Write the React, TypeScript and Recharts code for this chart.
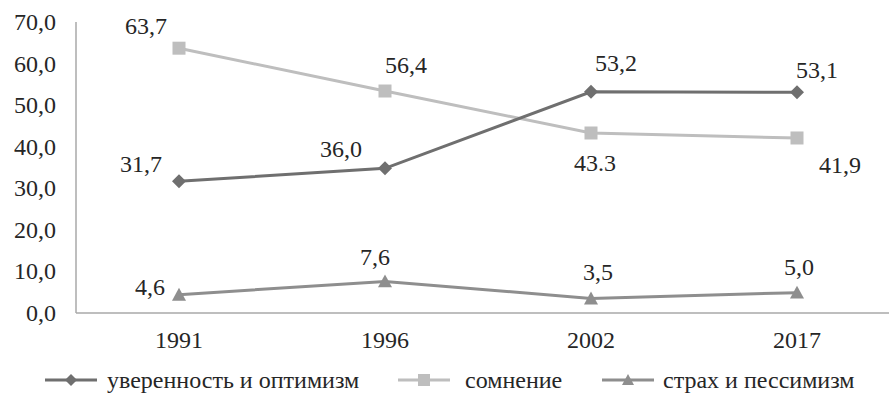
import { LineChart, Line, XAxis, YAxis, Legend, LabelList } from "recharts";

const years = ["1991", "1996", "2002", "2017"];
const confidence = [31.7, 34.8, 53.2, 53.1];
const doubt = [63.7, 53.4, 43.3, 42.1];
const fear = [4.4, 7.6, 3.5, 4.9];

const confidenceLabels = ["31,7", "36,0", "53,2", "53,1"];
const doubtLabels = ["63,7", "56,4", "43.3", "41,9"];
const fearLabels = ["4,6", "7,6", "3,5", "5,0"];

const yTicks = [0, 10, 20, 30, 40, 50, 60, 70];

const seriesNames = ["уверенность и оптимизм", "сомнение", "страх и пессимизм"];

const data = years.map((y, i) => ({
  year: y,
  confidence: confidence[i],
  doubt: doubt[i],
  fear: fear[i],
}));

const FONT = '"Times New Roman", "Liberation Serif", "DejaVu Serif", Times, serif';
const TEXT = "#262626";
const C_CONF = "#6f6f6f";
const C_DOUBT = "#bebebe";
const C_FEAR = "#8e8e8e";
const AXIS = "#a8a8a8";

const textStyle = { fontFamily: FONT, fontSize: 24 };

// label offsets (center of text relative to the point)
const confOffsets = [[-38, -17], [-44, -19], [25, -29], [20, -22]];
const doubtOffsets = [[-33, -22], [21, -26], [4, 30], [43, 27]];
const fearOffsets = [[-29, -8], [-10, -24], [7, -26], [2, -26]];

const Diamond = ({ cx, cy, fill, size = 7 }: any) =>
  cx == null ? null : (
    <path d={`M${cx},${cy - size} L${cx + size},${cy} L${cx},${cy + size} L${cx - size},${cy} Z`} fill={fill} />
  );

const Square = ({ cx, cy, fill, size = 6.5 }: any) =>
  cx == null ? null : <rect x={cx - size} y={cy - size} width={size * 2} height={size * 2} fill={fill} />;

const Triangle = ({ cx, cy, fill, size = 7 }: any) =>
  cx == null ? null : (
    <path d={`M${cx},${cy - size} L${cx + size},${cy + size * 0.85} L${cx - size},${cy + size * 0.85} Z`} fill={fill} />
  );

const makeLabel = (texts: string[], offsets: number[][]) => (props: any) => {
  const { x, y, index } = props;
  const [dx, dy] = offsets[index];
  return (
    <text x={x + dx} y={y + dy + 8} textAnchor="middle" fontFamily={FONT} style={textStyle} fill={TEXT}>
      {texts[index]}
    </text>
  );
};

const YTick = ({ x, y, payload }: any) => (
  <text x={x} y={y + 8} textAnchor="end" fontFamily={FONT} style={textStyle} fill={TEXT}>
    {payload.value.toFixed(1).replace(".", ",")}
  </text>
);

const XTick = ({ x, y, payload }: any) => (
  <text x={x} y={y + 27} textAnchor="middle" fontFamily={FONT} style={textStyle} fill={TEXT}>
    {payload.value}
  </text>
);

const legendItems = [
  { icon: 45, text: 107, color: C_CONF, Marker: Diamond },
  { icon: 398, text: 465, color: C_DOUBT, Marker: Square },
  { icon: 602, text: 663, color: C_FEAR, Marker: Triangle },
];

const LegendContent = () => (
  <svg width={889} height={50}>
    {legendItems.map((it, i) => (
      <g key={i}>
        <line x1={it.icon} x2={it.icon + 52} y1={25} y2={25} stroke={it.color} strokeWidth={3} />
        <it.Marker cx={it.icon + 26} cy={25} fill={it.color} size={6} />
        <text x={it.text} y={33} fontFamily={FONT} style={textStyle} fill={TEXT}>
          {seriesNames[i]}
        </text>
      </g>
    ))}
  </svg>
);

export default function App() {
  return (
    <div
      style={{
        position: "absolute",
        left: 0,
        top: 0,
        width: 889,
        height: 405,
        overflow: "hidden",
        background: "#fff",
        fontFamily: FONT,
      }}
    >
      <LineChart width={900} height={405} data={data} margin={{ top: 22, right: 0, left: 0, bottom: 0 }}>
        <XAxis
          dataKey="year"
          padding={{ left: 103, right: 103 }}
          axisLine={{ stroke: AXIS, strokeWidth: 1.5 }}
          tickLine={false}
          tick={<XTick />}
          height={42}
          interval={0}
        />
        <YAxis
          domain={[0, 70]}
          ticks={yTicks}
          width={76}
          axisLine={{ stroke: AXIS, strokeWidth: 1.5 }}
          tickLine={false}
          tick={<YTick />}
          tickMargin={14}
          interval={0}
        />
        <Legend verticalAlign="bottom" height={50} content={<LegendContent />} wrapperStyle={{ left: 0, bottom: 0, width: 889 }} />
        <Line
          dataKey="doubt"
          name={seriesNames[1]}
          stroke={C_DOUBT}
          strokeWidth={3}
          dot={<Square fill={C_DOUBT} />}
          activeDot={false}
          isAnimationActive={false}
        >
          <LabelList dataKey="doubt" content={makeLabel(doubtLabels, doubtOffsets)} />
        </Line>
        <Line
          dataKey="confidence"
          name={seriesNames[0]}
          stroke={C_CONF}
          strokeWidth={3}
          dot={<Diamond fill={C_CONF} />}
          activeDot={false}
          isAnimationActive={false}
        >
          <LabelList dataKey="confidence" content={makeLabel(confidenceLabels, confOffsets)} />
        </Line>
        <Line
          dataKey="fear"
          name={seriesNames[2]}
          stroke={C_FEAR}
          strokeWidth={3}
          dot={<Triangle fill={C_FEAR} />}
          activeDot={false}
          isAnimationActive={false}
        >
          <LabelList dataKey="fear" content={makeLabel(fearLabels, fearOffsets)} />
        </Line>
      </LineChart>
    </div>
  );
}
